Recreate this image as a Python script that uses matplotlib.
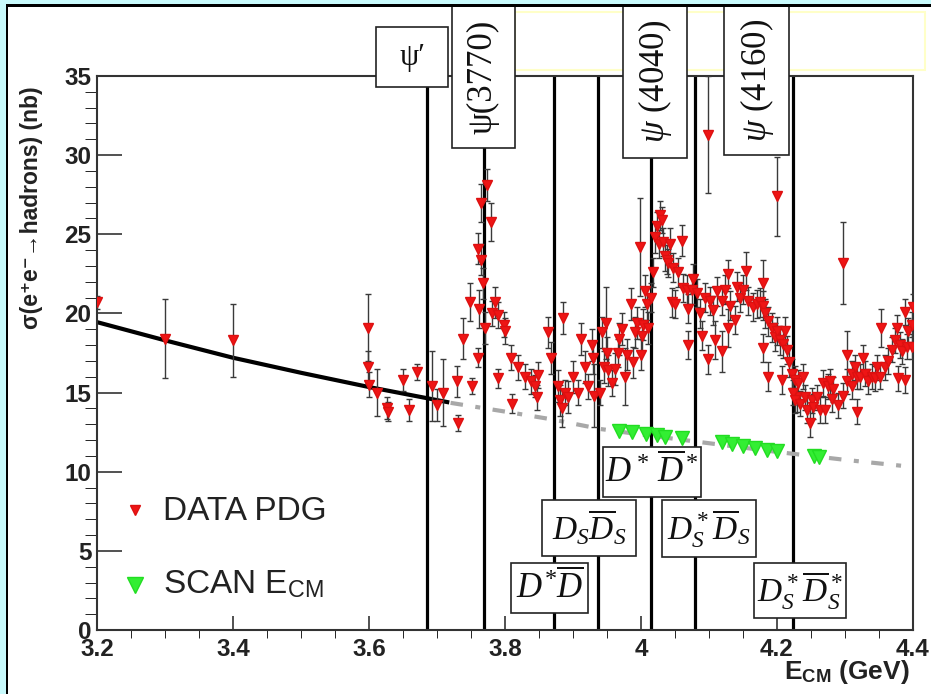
import matplotlib
matplotlib.use("Agg")
import matplotlib.pyplot as plt
from matplotlib.patches import Rectangle
from matplotlib.ticker import FormatStrFormatter, MultipleLocator

########
# Data
########

# PDG R-scan points: centre-of-mass energy (GeV), cross section (nb), error (nb)
E_PDG = [
    3.200, 3.300, 3.400, 3.598, 3.599, 3.600, 3.612, 3.626, 3.628, 3.650,
    3.659, 3.671, 3.693, 3.700, 3.709, 3.730, 3.731, 3.738, 3.749, 3.751,
    # psi(3770) peak
    3.760, 3.760, 3.762, 3.765, 3.765, 3.768, 3.771, 3.773, 3.779, 3.781,
    3.785, 3.790, 3.790, 3.799, 3.800, 3.809, 3.810, 3.819, 3.829, 3.838,
    3.844, 3.847, 3.849, 3.863, 3.868,
    # 3.87 - 4.01
    3.878, 3.881, 3.884, 3.886, 3.888, 3.893, 3.900, 3.907, 3.912, 3.918,
    3.922, 3.928, 3.930, 3.931, 3.940, 3.943, 3.946, 3.948, 3.950, 3.951,
    3.957, 3.962, 3.966, 3.968, 3.972, 3.976, 3.979, 3.985, 3.988, 3.991,
    3.994, 3.999, 4.000, 4.001, 4.003, 4.006, 4.009, 4.010,
    # psi(4040) / psi(4160)
    4.015, 4.018, 4.021, 4.024, 4.026, 4.028, 4.031, 4.032, 4.035, 4.038,
    4.040, 4.043, 4.046, 4.047, 4.050, 4.054, 4.060, 4.062, 4.068, 4.069,
    4.069, 4.075, 4.077, 4.082, 4.087, 4.090, 4.094, 4.099, 4.099, 4.101,
    4.106, 4.109, 4.112, 4.119, 4.119, 4.124, 4.128, 4.128, 4.131, 4.138,
    4.141, 4.146, 4.150, 4.154, 4.157, 4.165, 4.171, 4.175, 4.179, 4.179,
    4.179, 4.182, 4.187, 4.187, 4.193, 4.197, 4.200, 4.200, 4.204, 4.207,
    4.209, 4.212, 4.215, 4.218, 4.222, 4.226, 4.229,
    # above 4.22
    4.224, 4.226, 4.231, 4.234, 4.238, 4.241, 4.244, 4.249, 4.251, 4.253,
    4.259, 4.263, 4.268, 4.271, 4.275, 4.278, 4.281, 4.282, 4.290, 4.297,
    4.297, 4.303, 4.303, 4.310, 4.310, 4.315, 4.318, 4.318, 4.322, 4.326,
    4.329, 4.334, 4.340, 4.344, 4.347, 4.351, 4.353, 4.359, 4.363, 4.369,
    4.374, 4.376, 4.378, 4.381, 4.384, 4.388, 4.388, 4.391, 4.393, 4.398,
    4.398, 4.400,
]
SIG_PDG = [
    20.7, 18.4, 18.3, 19.1, 16.6, 15.5, 15.0, 14.0, 13.8, 15.8,
    13.9, 16.3, 15.4, 14.2, 15.0, 15.7, 13.1, 18.4, 20.7, 15.4,
    17.2, 24.1, 20.3, 27.0, 23.4, 21.9, 19.1, 28.1, 25.8, 20.0,
    20.7, 19.9, 15.9, 19.3, 18.9, 17.2, 14.3, 16.6, 16.0, 15.7,
    15.4, 14.7, 16.1, 18.8, 17.2,
    15.4, 14.5, 14.0, 19.7, 15.0, 14.7, 16.0, 15.0, 18.4, 16.6,
    15.4, 18.0, 17.2, 14.8, 15.0, 18.8, 16.6, 19.4, 17.5, 16.4,
    15.6, 16.5, 17.5, 18.4, 19.0, 16.0, 17.4, 20.6, 16.9, 18.8,
    19.4, 24.2, 17.4, 18.6, 19.3, 21.4, 20.6, 19.1,
    21.0, 22.6, 24.8, 25.5, 24.4, 26.2, 25.9, 24.5, 23.6, 23.4,
    23.2, 24.4, 20.7, 22.9, 20.6, 22.6, 24.6, 21.6, 21.5, 20.3,
    18.0, 21.5, 22.2, 21.3, 20.0, 18.6, 21.0, 31.3, 17.1, 20.8,
    20.2, 18.3, 21.4, 17.6, 20.8, 21.5, 22.5, 19.1, 20.5, 19.6,
    21.7, 21.0, 21.5, 22.7, 20.8, 20.4, 20.6, 20.7, 21.9, 20.5,
    17.8, 20.0, 16.0, 19.5, 19.1, 18.5, 27.4, 18.9, 18.3, 15.8,
    18.1, 18.9, 17.7, 16.9, 16.2, 15.8, 14.7,
    15.0, 14.5, 15.6, 14.3, 16.0, 14.7, 13.9, 13.1, 14.5, 14.1,
    14.7, 13.9, 15.6, 13.9, 15.4, 15.7, 14.6, 15.2, 14.2, 14.8,
    23.2, 17.4, 15.7, 16.2, 15.4, 16.6, 16.0, 13.8, 16.0, 17.2,
    16.2, 15.7, 16.0, 15.9, 16.6, 16.0, 19.1, 16.6, 17.0, 17.7,
    18.3, 19.1, 15.9, 18.0, 17.6, 20.1, 15.8, 17.9, 18.9, 19.3,
    17.9, 20.4,
]
ERR_PDG = [
    0.4, 2.5, 2.3, 2.1, 1.0, 0.8, 1.5, 0.7, 0.6, 0.7,
    0.7, 0.5, 2.2, 1.0, 2.1, 1.0, 0.5, 1.3, 1.2, 0.5,
    0.6, 1.0, 1.2, 1.2, 1.0, 1.0, 1.0, 1.0, 1.2, 0.8,
    1.0, 0.8, 0.6, 0.8, 0.8, 0.8, 0.6, 0.8, 0.8, 0.8,
    0.7, 0.8, 0.8, 1.0, 1.0,
    1.0, 1.0, 1.2, 1.0, 0.8, 1.0, 1.0, 0.8, 1.0, 1.0,
    0.8, 1.0, 1.0, 2.0, 0.8, 1.0, 1.0, 2.3, 1.0, 1.0,
    0.8, 1.0, 0.9, 1.0, 1.0, 1.8, 1.0, 1.0, 1.0, 1.0,
    1.0, 3.1, 1.0, 1.0, 1.0, 1.0, 1.0, 1.0,
    0.9, 0.9, 1.0, 0.9, 0.9, 0.9, 0.8, 0.9, 0.9, 0.9,
    0.9, 1.0, 0.9, 0.9, 0.9, 0.9, 1.0, 0.9, 0.9, 0.9,
    0.9, 0.9, 0.9, 0.9, 0.9, 0.9, 0.9, 3.7, 0.9, 0.9,
    0.9, 1.2, 0.9, 1.3, 0.9, 0.9, 0.9, 1.2, 0.9, 0.9,
    0.9, 0.9, 0.9, 1.2, 0.9, 0.9, 0.9, 0.9, 1.5, 0.9,
    0.9, 0.9, 0.9, 0.9, 0.9, 0.9, 2.5, 0.9, 0.9, 0.9,
    0.9, 0.9, 0.9, 0.9, 0.9, 0.9, 0.9,
    0.8, 0.8, 0.8, 0.8, 0.8, 0.8, 0.8, 0.9, 0.8, 0.8,
    0.8, 0.8, 0.8, 0.8, 0.8, 0.8, 0.8, 0.8, 0.8, 0.8,
    2.6, 1.5, 0.8, 0.8, 0.8, 0.8, 0.8, 0.8, 0.8, 0.8,
    0.8, 0.8, 0.8, 0.8, 0.8, 0.8, 1.2, 0.8, 0.8, 0.8,
    0.8, 0.8, 0.8, 0.8, 0.8, 0.8, 0.8, 0.8, 0.8, 0.8,
    0.8, 0.8,
]
assert len(E_PDG) == len(SIG_PDG) == len(ERR_PDG)

# energy scan points
E_SCAN = [3.967, 3.987, 4.007, 4.024, 4.036, 4.060,
          4.119, 4.134, 4.150, 4.168, 4.185, 4.200,
          4.255, 4.262]
SIG_SCAN = [12.6, 12.5, 12.4, 12.3, 12.2, 12.1,
            11.85, 11.75, 11.65, 11.5, 11.4, 11.3,
            11.0, 10.9]

# continuum fit (solid) and its extrapolation (dash-dot)
E_FIT = [3.200, 3.300, 3.400, 3.500, 3.600, 3.715]
SIG_FIT = [19.45, 18.3, 17.2, 16.25, 15.35, 14.4]
E_EXTRA = [3.72, 3.80, 3.87, 3.94, 4.00, 4.10, 4.20, 4.30, 4.40]
SIG_EXTRA = [14.35, 13.8, 13.3, 12.7, 12.35, 11.8, 11.25, 10.75, 10.3]

# resonances and open-charm thresholds (GeV)
MARKERS_E = [3.686, 3.769, 3.872, 3.937, 4.014, 4.080, 4.224]

##########
# Figure
##########
W, H = 931, 694

plt.rcParams["mathtext.fontset"] = "custom"
plt.rcParams["mathtext.rm"] = "Liberation Serif"
plt.rcParams["mathtext.it"] = "Liberation Serif:italic"
plt.rcParams["mathtext.sf"] = "Liberation Sans"
plt.rcParams["mathtext.bf"] = "Liberation Sans:bold"

SANS = ["Liberation Sans", "DejaVu Sans"]
SERIF = ["Liberation Serif", "DejaVu Serif"]


def fx(px):
    return px / W


def fy(py):
    return 1 - py / H


def fig_rect(fig, x0, y0, x1, y1, **kw):
    r = Rectangle((fx(x0), fy(y1)), fx(x1) - fx(x0), fy(y0) - fy(y1),
                  transform=fig.transFigure, **kw)
    fig.add_artist(r)


fig = plt.figure(figsize=(W / 100, H / 100), dpi=100, facecolor="white")

# cyan page edge and black frame (top and left only, picture is cropped)
fig_rect(fig, 0, 0, W, 4, fc="#c8fafc", ec="none", zorder=5)
fig_rect(fig, 0, 0, 6, H, fc="#c8fafc", ec="none", zorder=5)
fig_rect(fig, 6, 4, W, 7, fc="black", ec="none", zorder=6)
fig_rect(fig, 6, 4, 8, H, fc="black", ec="none", zorder=6)

ax = fig.add_axes([fx(97), fy(630), fx(913) - fx(97), fy(76) - fy(630)])
ax.set_xlim(3.2, 4.4)
ax.set_ylim(0, 35)

for e in MARKERS_E:
    ax.axvline(e, color="black", lw=2.3, zorder=1)

ax.plot(E_EXTRA, SIG_EXTRA, color="#a8a8a8", lw=3, dashes=[3, 3, 1.2, 3], zorder=2)
ax.plot(E_FIT, SIG_FIT, color="black", lw=3, zorder=2)

ax.errorbar(E_PDG, SIG_PDG, yerr=ERR_PDG, fmt="none", ecolor="#3a3a3a",
            elinewidth=1.0, capsize=2.2, capthick=1.0, zorder=3)
ax.plot(E_PDG, SIG_PDG, "v", color="#ee1515", mec="#dd1010", ms=7, zorder=4)
ax.plot(E_SCAN, SIG_SCAN, "v", color="#33ee33", mec="#22dd22", ms=10, zorder=4)

# axes styling
for s in ax.spines.values():
    s.set_color("#333333")
    s.set_linewidth(1.5)
ax.xaxis.set_major_locator(MultipleLocator(0.2))
ax.xaxis.set_minor_locator(MultipleLocator(0.05))
ax.yaxis.set_major_locator(MultipleLocator(5))
ax.yaxis.set_minor_locator(MultipleLocator(1))
ax.xaxis.set_major_formatter(FormatStrFormatter("%g"))
ax.tick_params(direction="in", top=False, right=False, color="#333333", width=1.2)
ax.tick_params(axis="x", which="major", length=10, pad=6)
ax.tick_params(axis="x", which="minor", length=6)
ax.tick_params(axis="y", which="major", length=18, pad=4)
ax.tick_params(axis="y", which="minor", length=9)
for lab in ax.get_xticklabels() + ax.get_yticklabels():
    lab.set_fontfamily(SANS)
    lab.set_fontweight("bold")
    lab.set_fontsize(17.5)
    lab.set_color("#222222")

fig.text(fx(32), fy(208), "σ(e⁺e⁻→hadrons) (nb)", rotation=90,
         ha="center", va="center", fontsize=16.5, fontweight="bold",
         family=SANS, color="#222222")
fig.text(fx(910), fy(672), r"E$_{\mathbf{CM}}$ (GeV)", ha="right", va="center",
         fontsize=19, fontweight="bold", family=SANS, color="#222222")

# legend
ax.plot([0.0466], [0.2166], "v", transform=ax.transAxes, color="#ee1515",
        mec="#dd1010", ms=7, clip_on=False)
ax.plot([0.0466], [0.0812], "v", transform=ax.transAxes, color="#33ee33",
        mec="#22dd22", ms=11, clip_on=False)
fig.text(fx(163), fy(512), "DATA PDG", ha="left", va="center", fontsize=24,
         family=SANS, color="#222222")
fig.text(fx(163), fy(584), r"SCAN E$_{\mathsf{CM}}$", ha="left", va="center",
         fontsize=24, family=SANS, color="#222222")

# faint leftover legend frame at the top
fig_rect(fig, 515, 12, 925, 70, fc="none", ec="#ffffc8", lw=1.5, zorder=2)

# resonance and threshold label boxes: (x0, y0, x1, y1, text, rotation, size)
BOXES = [
    (376, 27, 448, 87, "ψ′", 0, 22),
    (452, 5, 515, 148, "ψ(3770)", 90, 25),
    (623, 5, 687, 158, r"$\psi$ (4040)", 90, 25),
    (724, 5, 789, 155, r"$\psi$ (4160)", 90, 25),
    (603, 447, 701, 497, r"$D^*\,\overline{D}^*$", 0, 25),
    (542, 500, 636, 556, r"$D_S\overline{D}_S$", 0, 24),
    (662, 500, 756, 557, r"$D_S^*\overline{D}_S$", 0, 24),
    (511, 563, 588, 613, r"$D^{\!*}\!\overline{D}$", 0, 25),
    (754, 563, 846, 618, r"$D_S^*\overline{D}_S^*$", 0, 24),
]
for x0, y0, x1, y1, label, rot, size in BOXES:
    fig_rect(fig, x0, y0, x1, y1, fc="white", ec="#222222", lw=1.2, zorder=3)
    fig.text(fx((x0 + x1) / 2), fy((y0 + y1) / 2), label, rotation=rot,
             ha="center", va="center", fontsize=size, family=SERIF,
             color="#111111", zorder=4)

fig.savefig("out.png", dpi=100)
